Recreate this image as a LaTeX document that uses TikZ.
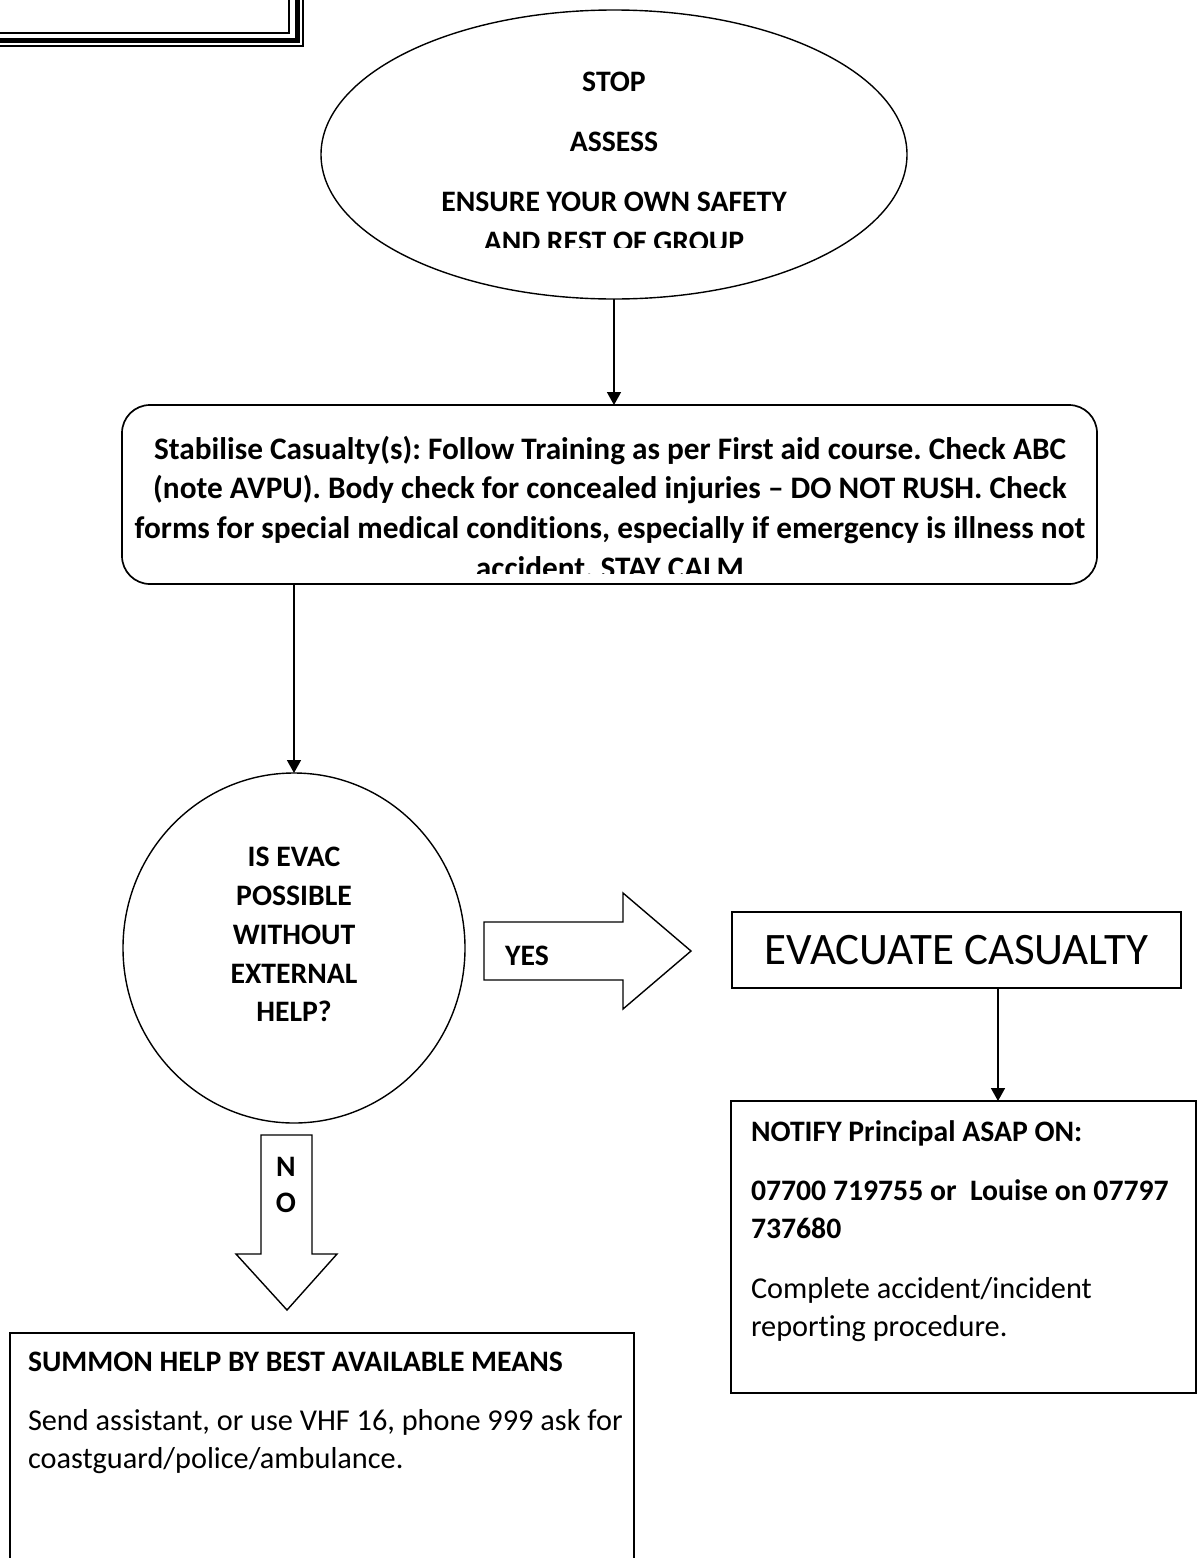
\documentclass[tikz,border=0pt]{standalone}
\usepackage{fontspec}
\setmainfont{Carlito}[Ligatures=NoCommon]
\usetikzlibrary{shapes.geometric,arrows.meta}
\begin{document}
\frenchspacing
\begin{tikzpicture}[x=1pt,y=-1pt,
  every node/.style={inner sep=0pt, outer sep=0pt},
  bold/.style={font=\fontsize{29.7}{38}\selectfont\bfseries},
  bigbold/.style={font=\fontsize{31.3}{40}\selectfont\bfseries},
  plain/.style={font=\fontsize{30.3}{38}\selectfont},
  conn/.style={line width=1.6pt,-{Triangle[length=13pt,width=14pt]}},
  shp/.style={draw,line width=1.4pt},
  boxs/.style={draw,line width=1.7pt},
  ]
\useasboundingbox (0,0) rectangle (1200,1558);

% top-left triple frame corner
\draw[line width=1.5pt] (-5,33) -- (289,33) -- (289,-5);
\draw[line width=5pt] (-5,40) -- (297,40) -- (297,-5);
\draw[line width=1.5pt] (-5,46) -- (303,46) -- (303,-5);

% ellipse
\node[shp, ellipse, minimum width=586pt, minimum height=289pt] (stop) at (614,154.5) {};
\node[bold, anchor=base] (t1) at (614,91) {STOP};
\node[bold, anchor=base] (t2) at (614,151) {ASSESS};
\node[bold, anchor=base] (t3) at (614,211) {ENSURE YOUR OWN SAFETY};
\begin{scope}
\clip (300,0) rectangle (930,247);
\node[bold, anchor=base] (t4) at (614,251) {AND REST OF GROUP};
\end{scope}

% stabilise box
\node[boxs, rounded corners=28pt, minimum width=975pt, minimum height=179pt] (stab) at (609.5,494.5) {};
\node[bigbold, anchor=base] (s1) at (610,459) {Stabilise Casualty(s): Follow Training as per First aid course. Check ABC};
\node[bigbold, anchor=base] (s2) at (610,498.5) {(note AVPU). Body check for concealed injuries – DO NOT RUSH. Check};
\node[bigbold, anchor=base] (s3) at (610,538) {forms for special medical conditions, especially if emergency is illness not};
\begin{scope}
\clip (130,540) rectangle (1090,573);
\node[bigbold, anchor=base] (s4) at (610,578) {accident. STAY CALM};
\end{scope}

\draw[conn] (stop.south) -- (stop.south |- stab.north);

% decision circle
\node[shp, ellipse, minimum width=342pt, minimum height=350pt] (evac) at (294,948) {};
\node[bold, anchor=base] (c1) at (294,866) {IS EVAC};
\node[bold, anchor=base] (c2) at (294,905) {POSSIBLE};
\node[bold, anchor=base] (c3) at (294,944) {WITHOUT};
\node[bold, anchor=base] (c4) at (294,983) {EXTERNAL};
\node[bold, anchor=base] (c5) at (294,1021) {HELP?};

\draw[conn] (evac.north |- stab.south) -- (evac.north);

% YES block arrow
\draw[shp] (484,922) -- (623,922) -- (623,893) -- (691,951) -- (623,1009) -- (623,980) -- (484,980) -- cycle;
\node[bold, anchor=base] (yes) at (527,965) {YES};

% evacuate box
\node[boxs, minimum width=449pt, minimum height=76pt, font=\fontsize{45}{52}\selectfont] (evbox) at (956.5,950) {EVACUATE CASUALTY};

% notify box
\node[boxs, minimum width=465pt, minimum height=292pt] (notify) at (963.5,1247) {};
\node[bold, anchor=base west] (n1) at (751,1141) {NOTIFY Principal ASAP ON:};
\node[bold, anchor=base west] (n2) at (751,1200) {07700 719755 or\ \ Louise on 07797};
\node[bold, anchor=base west] (n3) at (751,1238) {737680};
\node[plain, anchor=base west] (n4) at (751,1298) {Complete accident/incident};
\node[plain, anchor=base west] (n5) at (751,1336) {reporting procedure.};

\draw[conn] ([xshift=41.5pt]evbox.south) -- ([xshift=41.5pt]evbox.south |- notify.north);

% NO block arrow
\draw[shp] (261,1135) -- (312,1135) -- (312,1254) -- (337,1254) -- (287,1310) -- (236,1254) -- (261,1254) -- cycle;
\node[bold, anchor=base] (no1) at (286,1176) {N};
\node[bold, anchor=base] (no2) at (286,1212) {O};

% summon box
\node[boxs, minimum width=624pt, minimum height=250pt] (summon) at (322,1458) {};
\node[bold, anchor=base west] (m1) at (28,1371) {SUMMON HELP BY BEST AVAILABLE MEANS};
\node[plain, anchor=base west] (m2) at (28,1430) {Send assistant, or use VHF 16, phone 999 ask for};
\node[plain, anchor=base west] (m3) at (28,1468) {coastguard/police/ambulance.};
\end{tikzpicture}
\end{document}
